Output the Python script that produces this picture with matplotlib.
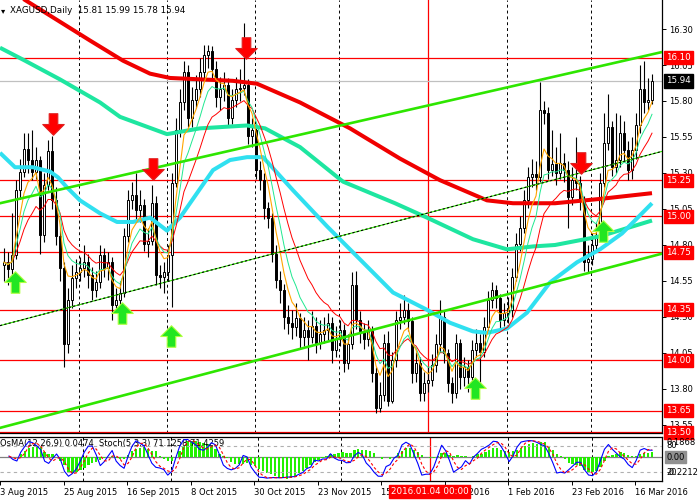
import numpy as np
import pandas as pd
import matplotlib.pyplot as plt
from matplotlib.path import Path

plt.rcParams['font.family'] = ['DejaVu Sans']
plt.rcParams['font.size'] = 6

# daily XAGUSD candles (open = previous close)
first_open = 14.66
closes = [14.68, 14.63, 14.73, 15.18, 15.31, 15.47, 15.39, 15.31, 15.39, 14.87,
          15.22, 15.45, 15.11, 14.86, 14.64, 14.11, 14.42, 14.57, 14.61, 14.64,
          14.68, 14.59, 14.49, 14.54, 14.73, 14.64, 14.68, 14.38, 14.42, 14.47,
          14.86, 15.11, 15.15, 15.04, 15.08, 14.81, 14.83, 15.09, 14.59, 14.58,
          14.61, 14.73, 15.23, 15.60, 15.79, 16.00, 15.68, 15.81, 15.88, 16.00,
          16.12, 16.15, 16.02, 15.83, 15.88, 15.91, 15.68, 15.81, 15.88, 15.89,
          15.91, 15.56, 15.60, 15.32, 15.25, 15.06, 14.99, 14.74, 14.56, 14.49,
          14.30, 14.26, 14.23, 14.29, 14.16, 14.21, 14.16, 14.24, 14.12, 14.18,
          14.21, 14.26, 14.07, 14.15, 14.21, 13.98, 14.11, 14.52, 14.28, 14.20,
          14.15, 14.20, 13.91, 13.67, 13.76, 14.12, 13.72, 14.00, 14.28, 14.30,
          14.35, 14.27, 13.91, 13.98, 13.77, 13.84, 13.86, 13.97, 14.11, 14.30,
          14.05, 13.84, 13.77, 14.12, 13.88, 13.95, 13.88, 14.07, 14.12, 14.06,
          14.23, 14.42, 14.49, 14.43, 14.28, 14.33, 14.35, 14.58, 14.81, 14.92,
          15.11, 15.27, 15.29, 15.27, 15.74, 15.72, 15.32, 15.36, 15.30, 15.37,
          15.32, 15.13, 15.25, 15.23, 15.11, 14.68, 14.70, 14.80, 14.87, 15.23,
          15.51, 15.62, 15.34, 15.39, 15.58, 15.46, 15.32, 15.46, 15.63, 15.88,
          15.79, 15.81, 15.94]
highs = [14.78, 14.75, 15.02, 15.25, 15.40, 15.58, 15.58, 15.60, 15.48, 15.42,
         15.30, 15.53, 15.56, 15.20, 14.92, 14.68, 14.50, 14.66, 14.70, 14.72,
         14.80, 14.74, 14.65, 14.62, 14.80, 14.78, 14.75, 14.72, 14.50, 14.55,
         14.92, 15.18, 15.24, 15.30, 15.18, 15.12, 14.92, 15.22, 15.14, 14.66,
         14.68, 14.80, 15.30, 15.68, 15.88, 16.08, 16.05, 15.90, 15.98, 16.10,
         16.19, 16.19, 16.18, 16.08, 15.97, 16.00, 15.96, 15.88, 15.97, 16.02,
         16.34, 15.95, 15.68, 15.64, 15.38, 15.30, 15.10, 15.02, 14.80, 14.62,
         14.53, 14.38, 14.35, 14.40, 14.33, 14.30, 14.28, 14.34, 14.30, 14.28,
         14.30, 14.33, 14.30, 14.24, 14.28, 14.25, 14.18, 14.61, 14.62, 14.34,
         14.26, 14.28, 14.24, 13.95, 13.85, 14.18, 14.20, 14.06, 14.34, 14.40,
         14.45, 14.40, 14.30, 14.06, 14.02, 13.92, 13.95, 14.04, 14.18, 14.42,
         14.34, 14.08, 13.88, 14.18, 14.15, 14.02, 14.00, 14.14, 14.22, 14.18,
         14.30, 14.48, 14.54, 14.52, 14.46, 14.40, 14.44, 14.64, 14.88, 15.00,
         15.18, 15.34, 15.40, 15.38, 15.93, 15.80, 15.76, 15.60, 15.48, 15.58,
         15.44, 15.38, 15.34, 15.55, 15.28, 15.14, 14.80, 14.88, 14.95, 15.30,
         15.72, 15.85, 15.66, 15.72, 15.70, 15.66, 15.52, 15.55, 15.72, 16.05,
         16.08, 15.96, 15.99]
lows = [14.55, 14.52, 14.58, 14.70, 15.12, 15.27, 15.30, 15.25, 15.26, 14.74,
        14.82, 15.18, 15.05, 14.80, 14.55, 13.95, 14.05, 14.36, 14.50, 14.55,
        14.58, 14.50, 14.42, 14.44, 14.50, 14.58, 14.56, 14.28, 14.33, 14.26,
        14.44, 14.82, 15.05, 14.98, 14.96, 14.76, 14.72, 14.80, 14.52, 14.50,
        14.47, 14.55, 14.37, 15.20, 15.55, 15.74, 15.62, 15.62, 15.75, 15.83,
        15.95, 16.03, 15.95, 15.76, 15.74, 15.80, 15.62, 15.64, 15.76, 15.80,
        15.84, 15.50, 15.48, 15.26, 15.18, 14.98, 14.92, 14.68, 14.50, 14.40,
        14.22, 14.18, 14.15, 14.17, 14.08, 14.10, 14.00, 14.12, 14.05, 14.08,
        14.12, 14.14, 13.98, 14.02, 14.10, 13.92, 13.94, 14.08, 14.22, 14.12,
        14.08, 14.10, 13.85, 13.63, 13.64, 13.72, 13.68, 13.70, 13.95, 14.22,
        14.25, 14.20, 13.84, 13.85, 13.72, 13.72, 13.78, 13.82, 13.92, 14.06,
        13.98, 13.78, 13.70, 13.74, 13.80, 13.82, 13.78, 13.84, 14.02, 13.84,
        14.02, 14.20, 14.36, 14.36, 14.22, 14.24, 14.26, 14.30, 14.55, 14.76,
        14.88, 15.06, 15.20, 15.18, 15.24, 15.64, 15.26, 15.28, 15.22, 15.26,
        15.24, 14.92, 15.08, 15.18, 15.04, 14.62, 14.61, 14.66, 14.76, 14.84,
        15.20, 15.46, 15.28, 15.30, 15.34, 15.38, 15.25, 15.26, 15.40, 15.58,
        15.72, 15.74, 15.78]
last_open = 15.81

# long moving averages, read as (bar, price) points
ma_red_bar = [-1, 14, 21.5, 29.75, 36.5, 41.5, 57.25, 63.25, 74, 86.5, 99, 109,
              120.75, 127.25, 137.75, 149, 162]
ma_red = [16.61, 16.35, 16.22, 16.08, 15.99, 15.96, 15.94, 15.92, 15.79, 15.61,
          15.40, 15.25, 15.11, 15.09, 15.09, 15.12, 15.16]
ma_teal_bar = [-1, 5.25, 14, 24, 29, 40.75, 49, 60.75, 65.25, 74, 84.75, 97.75,
               105.75, 117.25, 125.75, 132.25, 137.75, 149, 162]
ma_teal = [16.17, 16.08, 15.95, 15.79, 15.69, 15.57, 15.61, 15.63, 15.61, 15.48,
           15.24, 15.09, 14.99, 14.84, 14.77, 14.79, 14.80, 14.86, 14.97]
ma_cyan_bar = [-1, 2.75, 7.25, 11.5, 13.5, 15.75, 19, 24, 28.25, 32.25, 36.5,
               40.75, 44, 48.25, 52.25, 56.5, 60.75, 64.75, 72.25, 80.75, 89,
               97.25, 105.75, 111.5, 117.25, 120.75, 125.75, 130.75, 136.5,
               143.25, 149, 154.5, 162]
ma_cyan = [15.44, 15.34, 15.34, 15.31, 15.27, 15.20, 15.11, 15.02, 14.96, 14.96,
           14.99, 14.90, 14.99, 15.16, 15.32, 15.39, 15.41, 15.41, 15.18, 14.93,
           14.70, 14.47, 14.35, 14.26, 14.20, 14.19, 14.22, 14.33, 14.54, 14.68,
           14.77, 14.88, 15.09]

# trend channel ends (bar, price)
chan_bars = [-1, 164.5]
chan_upper = [15.09, 16.14]
chan_mid = [14.24, 15.45]
chan_lower = [13.53, 14.74]

levels = [16.10, 15.25, 15.00, 14.75, 14.35, 14.00, 13.65, 13.50]
level_labels = ['16.10', '15.25', '15.00', '14.75', '14.35', '14.00', '13.65', '13.50']
bid = 15.94

sell_bars = [12.25, 37.25, 60.5, 144.25]
sell_prices = [15.64, 15.33, 16.17, 15.37]
buy_bars = [2.75, 29.5, 41.75, 117.75, 149.75]
buy_prices = [14.54, 14.33, 14.17, 13.81, 14.90]

price_ticks = [16.30, 16.05, 15.80, 15.55, 15.30, 15.05, 14.80, 14.55, 14.30,
               14.05, 13.80, 13.55]
date_labels = ['3 Aug 2015', '25 Aug 2015', '16 Sep 2015', '8 Oct 2015',
               '30 Oct 2015', '23 Nov 2015', '15 Dec 2015', '6 Jan 2016',
               '1 Feb 2016', '23 Feb 2016', '16 Mar 2016']
grid_bars = [18.75, 40.75, 62.75, 83.75, 125.75, 146.75]
cross_bar = 106
cross_label = '2016.01.04 00:00'

n = len(closes)
x = np.arange(n)
c = np.array(closes)
o = np.array([first_open] + closes[:-1])
o[-1] = last_open
h = np.array(highs)
l = np.array(lows)

s = pd.Series(closes)
ema5 = s.ewm(span=5, adjust=False).mean()
ema8 = s.ewm(span=8, adjust=False).mean()
ema14 = s.ewm(span=14, adjust=False).mean()
macd = s.ewm(span=12, adjust=False).mean() - s.ewm(span=26, adjust=False).mean()
osma = macd - macd.rolling(9, min_periods=1).mean()
hh = pd.Series(highs).rolling(5, min_periods=1).max()
ll = pd.Series(lows).rolling(5, min_periods=1).min()
stk = (s - ll).rolling(3, min_periods=1).sum() / (hh - ll).rolling(3, min_periods=1).sum() * 100
std = stk.rolling(3, min_periods=1).mean()

W, H = 699, 500
fig = plt.figure(figsize=(W / 100, H / 100), dpi=100)
ax = fig.add_axes([0, 67 / H, 662 / W, 433 / H])
sub = fig.add_axes([0, 19 / H, 662 / W, 44 / H])

for a in (ax, sub):
    a.set_xlim(-1, 164.5)
    a.spines['left'].set_visible(False)
    for sp in ('right', 'bottom', 'top'):
        a.spines[sp].set_color('black')
        a.spines[sp].set_linewidth(0.9)
    for gb in grid_bars:
        a.axvline(gb, color='black', lw=0.7, ls=(0, (3, 3)), zorder=1)
    a.axvline(cross_bar, color='red', lw=0.9, zorder=1)
ax.spines['top'].set_visible(False)
ax.set_ylim(13.4944, 16.5014)

# horizontal levels
for lv in levels:
    ax.axhline(lv, color='red', lw=0.9, zorder=1.5)
ax.axhline(bid, color='#C0C0C0', lw=0.9, zorder=1.4)

# candles
up = c >= o
ax.vlines(x, l, h, color='black', lw=0.8, zorder=2)
body = np.maximum(np.abs(c - o), 0.004)
ax.bar(x[up], body[up], bottom=np.minimum(o, c)[up], width=0.55,
       facecolor='white', edgecolor='black', linewidth=0.7, zorder=2.1)
ax.bar(x[~up], body[~up], bottom=np.minimum(o, c)[~up], width=0.55,
       facecolor='black', edgecolor='black', linewidth=0.7, zorder=2.1)

# long MAs
ax.plot(ma_teal_bar, ma_teal, color='#1EE6A0', lw=2.9, zorder=3, solid_capstyle='butt')
ax.plot(ma_cyan_bar, ma_cyan, color='#30E0F0', lw=2.9, zorder=3, solid_capstyle='butt')
ax.plot(ma_red_bar, ma_red, color='#F00000', lw=2.9, zorder=3, solid_capstyle='butt')

# fast MAs
ax.plot(x, ema14, color='red', lw=0.7, zorder=3.2)
ax.plot(x, ema8, color='#20E890', lw=0.7, zorder=3.3)
ax.plot(x, ema5, color='orange', lw=0.8, zorder=3.4)

# channel
ax.plot(chan_bars, chan_upper, color='#2EE600', lw=1.9, zorder=4)
ax.plot(chan_bars, chan_lower, color='#2EE600', lw=1.9, zorder=4)
ax.plot(chan_bars, chan_mid, color='#2EE600', lw=0.8, zorder=4)
ax.plot(chan_bars, chan_mid, color='black', lw=0.8, ls=(0, (2, 2)), zorder=4.1)

# arrows
down = Path([(-0.2, 0.5), (0.2, 0.5), (0.2, 0.0), (0.5, 0.0), (0.0, -0.5),
             (-0.5, 0.0), (-0.2, 0.0), (-0.2, 0.5)], closed=True)
upw = Path([(-0.2, -0.5), (0.2, -0.5), (0.2, 0.0), (0.5, 0.0), (0.0, 0.5),
            (-0.5, 0.0), (-0.2, 0.0), (-0.2, -0.5)], closed=True)
ax.scatter(sell_bars, sell_prices, marker=down, s=240, facecolor='#FF0000',
           edgecolor='#E02020', linewidth=0.8, zorder=5)
ax.scatter(buy_bars, buy_prices, marker=upw, s=240, facecolor='#22E622',
           edgecolor='#B0FF40', linewidth=0.8, zorder=5)

# right price scale
ax.yaxis.tick_right()
ax.set_yticks(price_ticks)
ax.set_yticklabels([f'{p:.2f}' for p in price_ticks])
ax.tick_params(axis='y', length=3, width=0.7, pad=2, labelsize=6)
ax.set_xticks([])
for lv, txt in zip(levels, level_labels):
    ax.annotate(txt, xy=(1, lv), xycoords=('axes fraction', 'data'),
                xytext=(3, 0), textcoords='offset points', va='center', ha='left',
                color='white', fontsize=6.3, annotation_clip=False, zorder=10,
                bbox=dict(boxstyle='square,pad=0.25', fc='red', ec='red'))
ax.annotate(f'{bid:.2f}', xy=(1, bid), xycoords=('axes fraction', 'data'),
            xytext=(3, 0), textcoords='offset points', va='center', ha='left',
            color='white', fontsize=6.3, annotation_clip=False, zorder=10,
            bbox=dict(boxstyle='square,pad=0.25', fc='black', ec='black'))

ax.text(0.002, 0.985, '\u25BE', transform=ax.transAxes, va='top', ha='left', fontsize=6)
ax.text(0.015, 0.985, 'XAGUSD,Daily  15.81 15.99 15.78 15.94', transform=ax.transAxes,
        va='top', ha='left', fontsize=6.3)

# oscillator panel
sub.bar(x, osma, width=0.6, color='#22F000', zorder=2)
sub.set_ylim(-0.2212, 0.1868)
sub.axhline(0, color='#808080', lw=0.9, zorder=1.5)
sub.set_yticks([])
st = sub.twinx()
st.set_ylim(0, 100)
st.axhline(80, color='#B0B0B0', lw=0.8, ls=(0, (3, 3)))
st.axhline(20, color='#B0B0B0', lw=0.8, ls=(0, (3, 3)))
st.plot(x, stk, color='#0000FF', lw=0.8, zorder=3)
st.plot(x, std, color='red', lw=0.8, ls=(0, (2.5, 2)), zorder=3)
st.set_yticks([])
for sp in st.spines.values():
    sp.set_visible(False)

sub.text(0.0, 0.86, 'OsMA(12,26,9) 0.0474  Stoch(5,3,3) 71.1258 71.4259',
         transform=sub.transAxes, ha='left', va='center', fontsize=6, zorder=6)
for val, yy in (('0.1868', 0.87), ('-0.2212', 0.2)):
    sub.annotate(val, xy=(1, yy), xycoords='axes fraction', xytext=(3, 0),
                 textcoords='offset points', va='center', ha='left', fontsize=6,
                 annotation_clip=False)
for val, yy in (('80', 0.80), ('20', 0.20)):
    sub.annotate(val, xy=(1, yy), xycoords='axes fraction', xytext=(3, 0),
                 textcoords='offset points', va='center', ha='left', fontsize=6,
                 annotation_clip=False)
sub.annotate('0.00', xy=(1, 0), xycoords=('axes fraction', 'data'), xytext=(3, 0),
             textcoords='offset points', va='center', ha='left', fontsize=6,
             annotation_clip=False,
             bbox=dict(boxstyle='square,pad=0.15', fc='#909090', ec='#909090'))

# date axis
tick_pos = -2.25 + 16 * np.arange(len(date_labels))
sub.set_xticks(tick_pos)
sub.set_xticklabels(date_labels, ha='left')
sub.tick_params(axis='x', length=3, width=0.7, pad=2, labelsize=6)
sub.annotate(cross_label, xy=(cross_bar, 0), xycoords=('data', 'axes fraction'),
             xytext=(0, -7.5), textcoords='offset points', ha='center', va='center',
             color='white', fontsize=6.3, annotation_clip=False, zorder=10,
             bbox=dict(boxstyle='square,pad=0.2', fc='red', ec='red'))

fig.savefig('out.png', dpi=100)
